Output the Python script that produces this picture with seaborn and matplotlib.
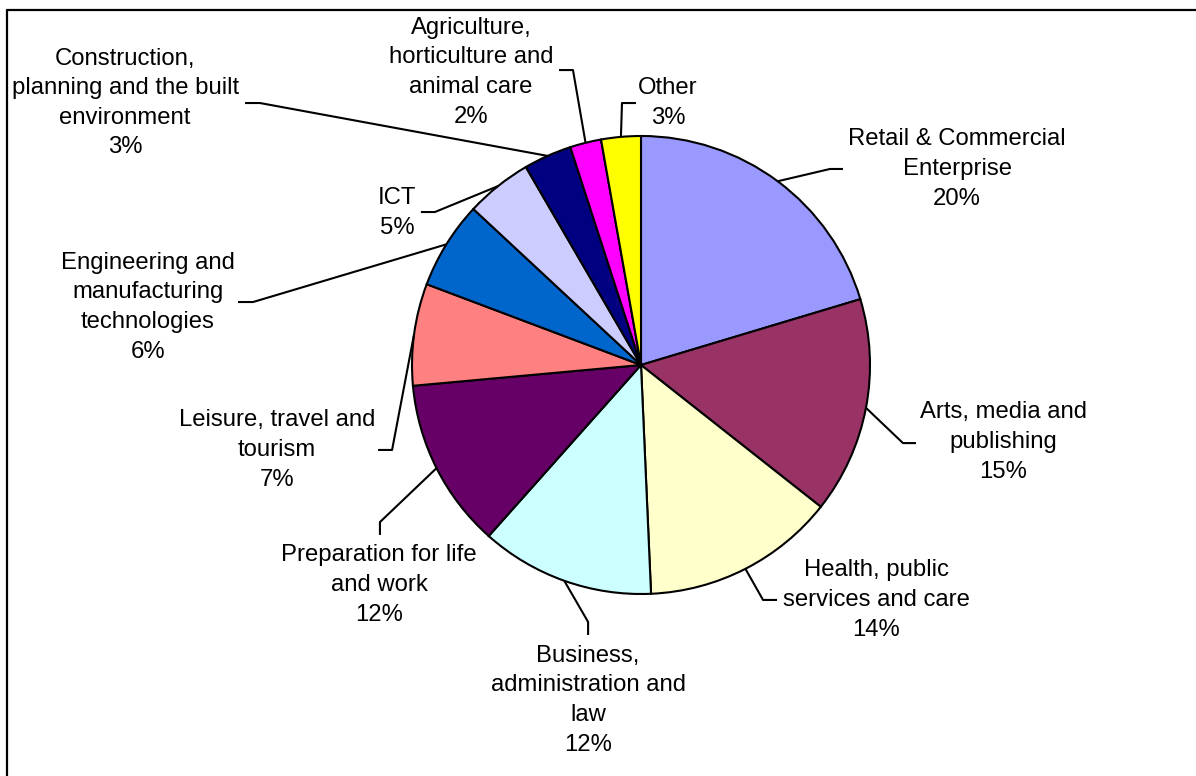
import numpy as np
import matplotlib
matplotlib.use("Agg")
import matplotlib.pyplot as plt
import seaborn as sns

# Learners by sector subject area (share of total, %)
sectors = [
    "Retail & Commercial\nEnterprise",
    "Arts, media and\npublishing",
    "Health, public\nservices and care",
    "Business,\nadministration and\nlaw",
    "Preparation for life\nand work",
    "Leisure, travel and\ntourism",
    "Engineering and\nmanufacturing\ntechnologies",
    "ICT",
    "Construction,\nplanning and the built\nenvironment",
    "Agriculture,\nhorticulture and\nanimal care",
    "Other",
]
shares = [20.4, 15.3, 13.7, 12.3, 12.0, 7.2, 6.2, 4.7, 3.4, 2.2, 2.8]

colors = ["#9999FF", "#993366", "#FFFFCC", "#CCFFFF", "#660066", "#FF8080",
          "#0066CC", "#CCCCFF", "#000080", "#FF00FF", "#FFFF00"]

# label centres, leader elbows and leader ends (pie radius = 1)
label_xy = [(1.380, 0.856), (1.581, -0.336), (1.026, -1.026), (-0.231, -1.463),
            (-1.144, -0.961), (-1.590, -0.371), (-2.153, 0.253), (-1.066, 0.664),
            (-2.253, 1.144), (-0.742, 1.279), (0.118, 1.144)]
elbow_xy = [(0.825, 0.856), (1.144, -0.341), (0.533, -1.026), (-0.231, -1.122),
            (-1.140, -0.686), (-1.087, -0.371), (-1.694, 0.275), (-0.900, 0.668),
            (-1.664, 1.144), (-0.297, 1.288), (-0.083, 1.144)]
end_xy = [(0.882, 0.856), (1.201, -0.341), (0.594, -1.026), (-0.231, -1.179),
          (-1.140, -0.742), (-1.148, -0.371), (-1.760, 0.275), (-0.961, 0.668),
          (-1.729, 1.144), (-0.358, 1.288), (-0.022, 1.144)]

sns.set_theme(style="white")
plt.rcParams['font.family'] = ['Liberation Sans', 'DejaVu Sans']

fig = plt.figure(figsize=(11.96, 7.76), dpi=100)
ax = fig.add_axes([0, 0, 1, 1])

wedges, _ = ax.pie(
    shares,
    colors=colors,
    startangle=90,
    counterclock=False,
    radius=1,
    wedgeprops=dict(edgecolor='black', linewidth=1.5),
)

total = sum(shares)
for w, name, val, lxy, exy, nxy in zip(wedges, sectors, shares, label_xy, elbow_xy, end_xy):
    mid = np.deg2rad((w.theta1 + w.theta2) / 2)
    start = (np.cos(mid), np.sin(mid))
    ax.plot([start[0], exy[0], nxy[0]], [start[1], exy[1], nxy[1]],
            color='black', lw=1.5, solid_capstyle='butt')
    ax.text(lxy[0], lxy[1], f"{name}\n{val / total * 100:.0f}%",
            ha='center', va='center', fontsize=17.2, linespacing=1.45, color='black')

ax.set_xlim(-641 / 229, 555 / 229)
ax.set_ylim(-411 / 229, 365 / 229)
ax.set_aspect('auto')
ax.axis('off')

# chart area border (clipped at right and bottom)
fig.add_artist(plt.Line2D([7 / 1196, 1], [1 - 10 / 776] * 2, transform=fig.transFigure,
                          color='black', lw=1.6))
fig.add_artist(plt.Line2D([7 / 1196] * 2, [0, 1 - 10 / 776], transform=fig.transFigure,
                          color='black', lw=1.6))

fig.savefig("out.png", dpi=100)
